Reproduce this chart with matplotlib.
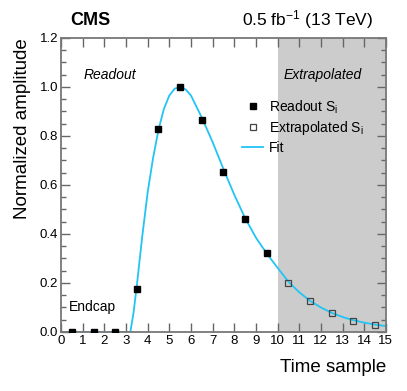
import matplotlib
matplotlib.use("Agg")
import matplotlib.pyplot as plt
from matplotlib.ticker import MultipleLocator

plt.rcParams['font.family'] = ['Liberation Sans', 'DejaVu Sans']
plt.rcParams['mathtext.fontset'] = 'custom'
plt.rcParams['mathtext.rm'] = 'Liberation Sans'
plt.rcParams['mathtext.it'] = 'Liberation Sans:italic'

# measured samples
readout_t = [0.5, 1.5, 2.5, 3.5, 4.5, 5.5, 6.5, 7.5, 8.5, 9.5]
readout_s = [0.0, 0.0, 0.0, 0.177, 0.827, 1.0, 0.866, 0.652, 0.463, 0.321]
extrap_t = [10.5, 11.5, 12.5, 13.5, 14.5]
extrap_s = [0.200, 0.126, 0.077, 0.046, 0.028]

# fit curve
fit_t = [0.0, 3.2, 3.35, 3.5, 3.75, 4.0, 4.25, 4.5, 4.75, 5.0, 5.25, 5.5, 5.75,
         6.0, 6.5, 7.0, 7.5, 8.0, 8.5, 9.0, 9.5, 10.0, 10.5, 11.0, 11.5, 12.0,
         12.5, 13.0, 13.5, 14.0, 14.5, 15.0]
fit_s = [0.0, 0.0, 0.08, 0.19, 0.39, 0.57, 0.71, 0.825, 0.91, 0.965, 0.993, 1.0,
         0.99, 0.965, 0.875, 0.775, 0.665, 0.56, 0.465, 0.385, 0.32, 0.262,
         0.205, 0.162, 0.127, 0.100, 0.078, 0.061, 0.048, 0.038, 0.030, 0.024]

fig = plt.figure(figsize=(4.07, 3.91), dpi=100)
ax = fig.add_axes([0.150, 0.151, 0.798, 0.752])

ax.axvspan(10, 15, color='#cccccc', lw=0, zorder=0)
line, = ax.plot(fit_t, fit_s, color='#22c4f5', lw=1.3, zorder=2)
p1, = ax.plot(readout_t, readout_s, 's', ms=4, color='black', zorder=3)
p2, = ax.plot(extrap_t, extrap_s, 's', ms=4.5, mfc='none', mec='#444444', mew=0.9, zorder=3)

ax.set_xlim(0, 15)
ax.set_ylim(0, 1.2)
ax.xaxis.set_major_locator(MultipleLocator(1))
ax.yaxis.set_minor_locator(MultipleLocator(0.05))
ax.set_yticks([0.0, 0.2, 0.4, 0.6, 0.8, 1.0, 1.2])
ax.set_yticklabels(['0.0', '0.2', '0.4', '0.6', '0.8', '1.0', '1.2'])
ax.tick_params(which='both', direction='in', top=True, right=True,
               color='#666666', labelsize=9.5, pad=2)
ax.tick_params(which='major', length=6.5, width=1)
ax.tick_params(which='minor', length=3.5, width=1)
for s in ax.spines.values():
    s.set_color('#777777')
    s.set_linewidth(1.3)

ax.set_xlabel('Time sample', fontsize=13.5, loc='right', labelpad=9)
ax.set_ylabel('Normalized amplitude', fontsize=13.5, loc='top', labelpad=6)

fig.text(0.172, 0.935, 'CMS', fontsize=13, fontweight='bold')
fig.text(0.918, 0.935, r'0.5 fb$^{-1}$ (13 TeV)', fontsize=12.5, ha='right')
ax.text(0.07, 0.86, 'Readout', transform=ax.transAxes, fontsize=10, style='italic')
ax.text(0.685, 0.86, 'Extrapolated', transform=ax.transAxes, fontsize=10, style='italic')
ax.text(0.025, 0.07, 'Endcap', transform=ax.transAxes, fontsize=10)

ax.legend([p1, p2, line], [r'Readout S$_\mathrm{i}$', r'Extrapolated S$_\mathrm{i}$', 'Fit'],
          loc='upper left', bbox_to_anchor=(0.52, 0.837), frameon=False,
          fontsize=10, handlelength=1.5, handletextpad=0.4, labelspacing=0.25)

fig.savefig('out.png', dpi=100)
